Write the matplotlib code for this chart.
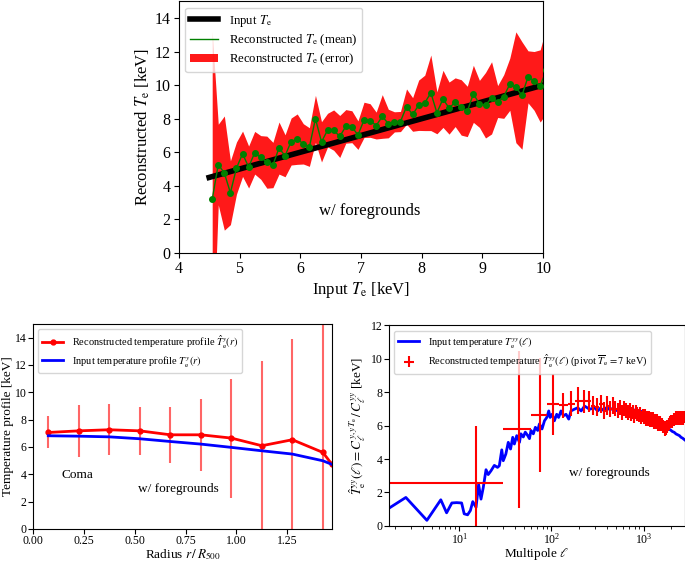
import numpy as np
import matplotlib
matplotlib.use("Agg")
import matplotlib.pyplot as plt

plt.rcParams["font.family"] = ["Liberation Serif", "DejaVu Serif"]
plt.rcParams["mathtext.fontset"] = "stix"

# --- top panel: input vs reconstructed Te ---
input_te = [4.5, 10.0]
te_grid = [4.55, 4.65, 4.75, 4.85, 4.95, 5.05, 5.15, 5.25, 5.35, 5.45,
           5.55, 5.65, 5.75, 5.85, 5.95, 6.05, 6.15, 6.25, 6.35, 6.45,
           6.55, 6.65, 6.75, 6.85, 6.95, 7.05, 7.15, 7.25, 7.35, 7.45,
           7.55, 7.65, 7.75, 7.85, 7.95, 8.05, 8.15, 8.25, 8.35, 8.45,
           8.55, 8.65, 8.75, 8.85, 8.95, 9.05, 9.15, 9.25, 9.35, 9.45,
           9.55, 9.65, 9.75, 9.85, 9.95, 10.05]
te_mean = [3.19, 5.27, 4.76, 3.59, 5.06, 5.91, 5.12, 5.97, 5.69, 5.41,
           5.24, 6.25, 5.79, 6.64, 6.78, 6.50, 6.31, 7.99, 6.62, 7.32,
           7.32, 6.94, 7.54, 7.52, 7.02, 7.93, 7.89, 7.59, 8.13, 7.71,
           7.81, 7.83, 8.72, 8.25, 8.80, 8.94, 9.54, 8.35, 9.18, 8.63,
           8.98, 8.67, 8.43, 9.48, 8.88, 8.80, 9.24, 9.02, 9.32, 10.05,
           9.87, 9.38, 10.49, 10.25, 9.95, 10.87]
te_err = [10.0, 2.4, 3.4, 1.9, 1.55, 1.35, 1.25, 1.27, 1.3, 1.55,
          1.35, 1.55, 1.25, 1.4, 1.5, 1.2, 1.15, 1.4, 1.2, 1.0,
          1.2, 1.25, 1.0, 0.95, 0.85, 1.05, 1.0, 0.8, 1.3, 0.85,
          0.6, 0.6, 1.05, 1.0, 1.5, 1.65, 2.25, 1.25, 1.7, 1.55,
          1.45, 1.65, 1.5, 1.7, 1.4, 1.95, 2.15, 0.95, 1.3, 1.55,
          3.3, 3.2, 1.55, 1.75, 2.15, 2.55]

# --- bottom left: radial profile (Coma) ---
radius = [0.075, 0.225, 0.375, 0.525, 0.675, 0.825, 0.975, 1.125, 1.275, 1.425, 1.47]
prof_rec = [7.06, 7.18, 7.26, 7.18, 6.89, 6.89, 6.65, 6.09, 6.53, 5.60, 4.72]
prof_err = [1.17, 1.9, 1.85, 1.78, 2.05, 2.65, 4.35, 6.2, 7.35, 11.0, 0.0]
prof_in = [6.82, 6.79, 6.74, 6.60, 6.40, 6.21, 5.97, 5.72, 5.48, 4.99, 4.72]

# --- bottom right: multipole spectrum ratio ---
ell_in = [1.73, 2.63, 4.45, 6.3, 7.28, 8.3, 9.35, 10.6, 11.3, 12.3,
          13.2, 14.0, 15.2, 16.2, 17.2, 18.2, 19.5, 20.6, 22.1, 24.0,
          26.0, 27.2, 28.9, 30.0, 32.0, 34.0, 36.0, 38.0, 39.6, 42.0,
          45.0, 46.6, 49.5, 52.0, 55.2, 57.7, 60.0, 63.6, 66.9, 71.0,
          74.0, 79.0, 84.0, 89.0, 93.5, 96.7, 101.6, 107.6, 114, 119.6,
          127, 134.7, 144, 154, 163, 177, 193, 210, 229, 259,
          293, 318, 340, 370, 400, 430, 470, 510, 550, 600,
          650, 700, 760, 820, 880, 950, 1020, 1100, 1180, 1260,
          1350, 1450, 1550, 1650, 1750, 1850, 1950, 2050, 2150, 2250,
          2350, 2450, 2550, 2650, 2790]
t_in = [1.06, 1.70, 0.33, 1.56, 0.78, 1.37, 1.39, 1.37, 0.72, 0.66,
        0.92, 1.45, 1.11, 2.48, 1.60, 2.29, 3.36, 3.07, 3.30, 3.62,
        3.50, 3.60, 4.55, 3.90, 4.30, 5.00, 4.60, 5.30, 4.90, 5.40,
        5.00, 5.51, 5.32, 5.61, 5.41, 5.22, 5.71, 5.51, 5.90, 5.71,
        6.10, 5.80, 6.29, 6.49, 6.88, 6.49, 6.68, 6.29, 6.68, 6.49,
        6.88, 6.59, 6.68, 6.39, 6.88, 6.98, 7.07, 6.88, 7.17, 6.98,
        7.07, 6.88, 7.05, 6.90, 7.10, 6.95, 7.05, 6.90, 7.10, 6.95,
        7.05, 7.10, 6.90, 6.95, 6.80, 6.85, 6.70, 6.60, 6.50, 6.45,
        6.30, 6.20, 6.10, 6.00, 5.90, 5.80, 5.75, 5.65, 5.60, 5.50,
        5.45, 5.40, 5.30, 5.25, 5.15]

ell_rec = [15 + 30 * k for k in range(93)]
t_rec = [2.58, 5.77, 6.64, 7.27, 7.23, 7.31, 7.50, 7.45, 7.45, 7.20,
         7.10, 7.30, 6.90, 7.20, 7.00, 7.20, 7.00, 6.90, 7.10, 6.80,
         7.00, 6.90, 6.80, 6.90, 6.70, 6.80, 6.60, 6.80, 6.70, 6.60,
         6.70, 6.50, 6.60, 6.50, 6.60, 6.40, 6.50, 6.40, 6.50, 6.30,
         6.40, 6.30, 6.40, 6.20, 6.30, 6.20, 6.30, 6.10, 6.20, 6.10,
         6.20, 6.00, 6.10, 5.90, 6.00, 5.90, 5.80, 5.90, 5.80, 5.90,
         6.00, 6.00, 6.10, 6.10, 6.20, 6.20, 6.30, 6.20, 6.30, 6.30,
         6.40, 6.30, 6.40, 6.40, 6.40, 6.50, 6.40, 6.50, 6.40, 6.50,
         6.50, 6.40, 6.50, 6.50, 6.50, 6.40, 6.50, 6.50, 6.50, 6.40,
         6.50, 6.50, 6.50]
t_rec_err = [3.40, 4.70, 3.40, 1.85, 0.75, 0.75, 0.80, 0.70, 0.65, 0.55,
             0.55, 0.55, 0.50, 0.55, 0.50, 0.50, 0.45, 0.45, 0.45, 0.45,
             0.45, 0.45, 0.45, 0.45, 0.42, 0.42, 0.42, 0.42, 0.42, 0.40,
             0.40, 0.40, 0.40, 0.40, 0.40, 0.40, 0.40, 0.40, 0.40, 0.40,
             0.40, 0.40, 0.40, 0.40, 0.40, 0.40, 0.40, 0.40, 0.40, 0.40,
             0.40, 0.35, 0.35, 0.35, 0.35, 0.35, 0.40, 0.35, 0.35, 0.35,
             0.35, 0.35, 0.35, 0.35, 0.35, 0.35, 0.35, 0.35, 0.35, 0.35,
             0.35, 0.35, 0.35, 0.35, 0.35, 0.35, 0.35, 0.35, 0.35, 0.35,
             0.35, 0.35, 0.35, 0.35, 0.35, 0.35, 0.35, 0.35, 0.35, 0.35,
             0.35, 0.35, 0.35]

fig = plt.figure(figsize=(6.85, 5.63), dpi=100)

# top panel
ax = fig.add_axes([0.261, 0.5506, 0.532, 0.4474])
m = np.array(te_mean)
e = np.array(te_err)
ax.plot(input_te, input_te, color="black", lw=4, label=r"Input $T_{\rm e}$", zorder=3)
ax.plot(te_grid, te_mean, color="green", lw=1, label=r"Reconstructed $T_{\rm e}$ (mean)", zorder=4)
ax.plot(te_grid, te_mean, "o", color="green", ms=4, zorder=4)
ax.fill_between(te_grid, m - e, m + e, color="red", alpha=0.9, lw=0,
                label=r"Reconstructed $T_{\rm e}$ (error)", zorder=2)
ax.set_xlim(4, 10)
ax.set_ylim(0, 15)
ax.set_yticks(range(0, 15, 2))
ax.tick_params(labelsize=11.5, pad=2.5)
ax.set_xlabel(r"Input $T_{\rm e}$ [keV]", fontsize=12, labelpad=2)
ax.set_ylabel(r"Reconstructed $T_{\rm e}$ [keV]", fontsize=12, labelpad=2)
ax.text(7.15, 2.5, "w/ foregrounds", fontsize=12, ha="center", va="center")
ax.legend(loc="upper left", fontsize=9.2, labelspacing=0.3, handlelength=2.2)

# bottom left
ax1 = fig.add_axes([0.0482, 0.0605, 0.4365, 0.364])
ax1.errorbar(radius[:-1], prof_rec[:-1], yerr=prof_err[:-1], fmt="none",
             ecolor=(1, 0, 0, 0.6), elinewidth=1.5)
ax1.plot(radius, prof_rec, "-o", color="red", lw=2, ms=3.5,
         label=r"Reconstructed temperature profile $\hat{T}_{\rm e}^{y}(r)$")
ax1.plot(radius, prof_in, color="blue", lw=2,
         label=r"Input temperature profile $T_{\rm e}^{y}(r)$")
ax1.set_xlim(0, 1.47)
ax1.set_ylim(0, 15)
ax1.set_xticks([0, 0.25, 0.5, 0.75, 1.0, 1.25])
ax1.set_yticks(range(0, 15, 2))
ax1.tick_params(labelsize=8.5, pad=1.2)
ax1.set_xlabel(r"Radius $r\,/\,R_{500}$", fontsize=9.5, labelpad=0)
ax1.set_ylabel("Temperature profile [keV]", fontsize=9.5, labelpad=0.5)
ax1.text(0.217, 3.97, "Coma", fontsize=9.5, ha="center", va="center")
ax1.text(0.714, 2.92, "w/ foregrounds", fontsize=9.5, ha="center", va="center")
ax1.legend(loc="upper left", fontsize=7.5, labelspacing=0.3)

# bottom right
ax2 = fig.add_axes([0.568, 0.066, 0.4315, 0.356])
ax2.plot(ell_in, t_in, color="blue", lw=2, label=r"Input temperature $T_{\rm e}^{yy}(\ell)$")
ax2.errorbar(ell_rec, t_rec, xerr=15, yerr=t_rec_err, fmt="none", ecolor="red",
             elinewidth=1.5,
             label=r"Reconstructed temperature $\hat{T}_{\rm e}^{yy}(\ell)$ (pivot $\overline{T}_{\rm e} = 7$ keV)")
ax2.set_xscale("log")
ax2.set_xlim(1.73, 2790)
ax2.set_ylim(0, 12)
ax2.set_yticks(range(0, 13, 2))
ax2.tick_params(labelsize=8.5, pad=1.2)
ax2.set_xlabel(r"Multipole $\ell$", fontsize=9.5, labelpad=-0.5)
ax2.set_ylabel(r"$\hat{T}_{\rm e}^{yy}(\ell) = C_\ell^{y,yT_{\rm e}}\,/\,C_\ell^{yy}$ [keV]",
               fontsize=9.5, labelpad=2)
ax2.text(420, 3.17, "w/ foregrounds", fontsize=9.5, ha="center", va="center")
ax2.legend(loc="upper left", fontsize=7.5, labelspacing=0.3)

fig.savefig("out.png", dpi=100)
